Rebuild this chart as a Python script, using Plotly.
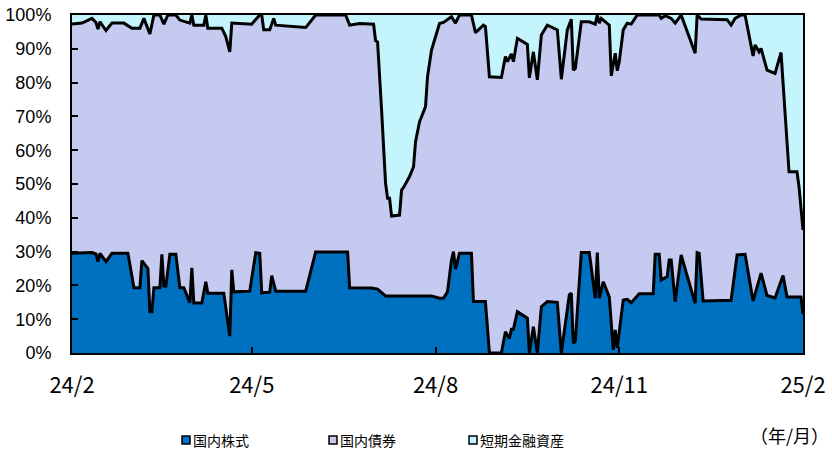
import plotly.graph_objects as go

# 国内株式 (%)
stock_dates = ["2024-02-01","2024-02-11","2024-02-13","2024-02-14","2024-02-15","2024-02-18","2024-02-21","2024-02-29",
"2024-03-03","2024-03-06","2024-03-07","2024-03-10","2024-03-11","2024-03-12","2024-03-13","2024-03-16","2024-03-17",
"2024-03-18","2024-03-19","2024-03-21","2024-03-24","2024-03-26","2024-03-28","2024-03-31","2024-04-01","2024-04-02",
"2024-04-06","2024-04-08","2024-04-09","2024-04-17","2024-04-20","2024-04-21","2024-04-22","2024-04-30","2024-05-03",
"2024-05-05","2024-05-06","2024-05-10","2024-05-11","2024-05-13","2024-05-28","2024-06-02","2024-06-18","2024-06-19",
"2024-06-30","2024-07-03","2024-07-07","2024-07-30","2024-08-03","2024-08-05","2024-08-07","2024-08-09","2024-08-10",
"2024-08-11","2024-08-13","2024-08-19","2024-08-20","2024-08-26","2024-08-28","2024-09-03","2024-09-05","2024-09-07",
"2024-09-08","2024-09-09","2024-09-11","2024-09-16","2024-09-17","2024-09-19","2024-09-21","2024-09-23","2024-09-26",
"2024-10-01","2024-10-03","2024-10-07","2024-10-08","2024-10-09","2024-10-10","2024-10-13","2024-10-17","2024-10-20",
"2024-10-21","2024-10-22","2024-10-24","2024-10-27","2024-10-29","2024-10-30","2024-10-31","2024-11-03","2024-11-05",
"2024-11-07","2024-11-11","2024-11-18","2024-11-19","2024-11-21","2024-11-22","2024-11-25","2024-11-26","2024-11-27",
"2024-11-29","2024-12-02","2024-12-09","2024-12-10","2024-12-11","2024-12-13","2024-12-27","2024-12-30","2025-01-03",
"2025-01-07","2025-01-11","2025-01-14","2025-01-18","2025-01-22","2025-01-24","2025-01-31","2025-02-01"]
stock_pct = [29.5,29.7,29.3,27.0,29.5,27.0,29.5,29.5,
19.3,19.3,27.3,25.0,12.2,12.2,19.3,19.3,29.2,
19.8,19.8,29.2,29.2,19.3,19.3,14.9,25.2,14.8,
14.8,21.1,17.7,17.7,5.0,24.6,18.1,18.3,29.7,
29.5,17.8,18.0,22.9,18.3,18.3,29.9,29.9,19.3,
19.2,18.9,16.9,16.9,16.2,16.2,18.1,27.5,30.0,
24.8,29.5,29.5,15.2,15.2,0.0,0.0,6.3,4.3,
7.0,7.0,12.2,10.3,0.0,7.8,0.0,13.7,15.2,
15.0,0.0,17.2,17.7,2.9,3.5,29.7,29.7,16.2,
29.7,16.2,21.1,16.6,0.9,6.8,1.5,15.7,15.9,
14.9,17.5,17.5,29.2,29.2,21.6,22.6,27.5,27.5,
15.2,29.0,14.7,29.7,29.5,15.4,15.6,29.0,29.2,
15.4,23.6,17.0,16.3,22.9,16.6,16.6,11.5]

# 短期金融資産 (%)
short_dates = ["2024-02-01","2024-02-06","2024-02-11","2024-02-13","2024-02-14","2024-02-15","2024-02-18","2024-02-21",
"2024-02-27","2024-03-02","2024-03-06","2024-03-08","2024-03-11","2024-03-13","2024-03-16","2024-03-18","2024-03-20",
"2024-03-24","2024-03-26","2024-03-28","2024-03-31","2024-04-01","2024-04-02","2024-04-07","2024-04-08","2024-04-09",
"2024-04-16","2024-04-18","2024-04-20","2024-04-21","2024-04-28","2024-05-01","2024-05-02","2024-05-05","2024-05-06",
"2024-05-07","2024-05-10","2024-05-12","2024-05-13","2024-05-28","2024-05-29","2024-06-02","2024-06-17","2024-06-19",
"2024-06-24","2024-07-01","2024-07-02","2024-07-03","2024-07-05","2024-07-06","2024-07-07","2024-07-08","2024-07-09",
"2024-07-10","2024-07-14","2024-07-15","2024-07-16","2024-07-19","2024-07-21","2024-07-22","2024-07-24","2024-07-27",
"2024-07-28","2024-07-30","2024-07-31","2024-08-02","2024-08-03","2024-08-05","2024-08-07","2024-08-09","2024-08-11",
"2024-08-13","2024-08-19","2024-08-21","2024-08-25","2024-08-26","2024-08-28","2024-09-03","2024-09-05","2024-09-06",
"2024-09-08","2024-09-09","2024-09-11","2024-09-16","2024-09-17","2024-09-19","2024-09-21","2024-09-23","2024-09-26",
"2024-10-01","2024-10-03","2024-10-06","2024-10-08","2024-10-09","2024-10-10","2024-10-13","2024-10-17","2024-10-20",
"2024-10-21","2024-10-22","2024-10-23","2024-10-27","2024-10-28","2024-10-30","2024-10-31","2024-11-01","2024-11-03",
"2024-11-05","2024-11-07","2024-11-10","2024-11-21","2024-11-22","2024-11-24","2024-11-27","2024-11-29","2024-12-02",
"2024-12-09","2024-12-10","2024-12-12","2024-12-25","2024-12-27","2024-12-29","2025-01-01","2025-01-03","2025-01-07",
"2025-01-08","2025-01-10","2025-01-11","2025-01-14","2025-01-16","2025-01-18","2025-01-21","2025-01-25","2025-01-29",
"2025-01-30","2025-02-01"]
short_pct = [2.7,2.4,1.0,2.2,4.2,2.0,4.6,2.4,
2.4,3.9,3.9,1.0,5.6,0.0,0.0,2.7,0.0,
0.0,1.5,1.8,2.4,0.0,3.0,3.0,0.0,3.9,
3.9,6.4,10.9,2.4,2.5,2.7,2.0,0.0,0.0,
4.4,4.4,1.0,3.0,3.7,3.0,0.0,0.0,3.0,
2.5,2.7,7.6,8.0,28.1,39.9,49.8,54.2,54.2,
59.5,59.2,51.8,51.0,47.8,44.9,37.5,31.6,27.1,
18.3,10.4,8.4,4.9,2.5,2.2,1.3,0.5,2.4,
0.0,0.0,5.2,3.0,3.4,18.3,18.5,12.3,13.8,
11.5,13.8,6.9,8.7,18.6,10.9,19.2,5.9,3.0,
4.4,19.0,4.4,1.3,16.3,15.8,2.0,2.0,2.7,
0.0,2.4,1.0,3.0,18.0,11.3,16.5,13.8,4.4,
2.4,2.7,0.0,0.0,1.0,0.2,1.0,2.4,0.0,
11.3,0.0,1.2,1.4,3.0,1.0,0.0,0.0,12.1,
8.9,10.9,9.9,16.3,16.7,17.3,11.1,46.4,46.4,
50.8,63.6]

series_names = ["国内株式", "国内債券", "短期金融資産"]
series_colors = ["#0070C0", "#C5CBF0", "#C4F4FC"]

tick_vals = ["2024-02-01", "2024-05-01", "2024-08-01", "2024-11-01", "2025-02-01"]
tick_text = ["24/2", "24/5", "24/8", "24/11", "25/2"]
y_ticks = [0, 10, 20, 30, 40, 50, 60, 70, 80, 90, 100]
y_text = [f"{v}%" for v in y_ticks]

top_pct = [100 - v for v in short_pct]  # 国内株式 + 国内債券

fig = go.Figure()
fig.add_trace(go.Scatter(x=short_dates, y=top_pct, mode="lines", fill="tozeroy",
                         fillcolor=series_colors[1], line=dict(color="black", width=3),
                         showlegend=False, hoverinfo="skip"))
fig.add_trace(go.Scatter(x=stock_dates, y=stock_pct, mode="lines", fill="tozeroy",
                         fillcolor=series_colors[0], line=dict(color="black", width=3),
                         showlegend=False, hoverinfo="skip"))

# legend (square swatch + label), positioned in paper coordinates
legend_x = [0.1505, 0.3516, 0.5431]
sw_w, sw_y0, sw_y1 = 0.0109, -0.2692, -0.2456
for name, col, lx in zip(series_names, series_colors, legend_x):
    fig.add_shape(type="rect", xref="paper", yref="paper", x0=lx, x1=lx + sw_w, y0=sw_y0, y1=sw_y1,
                  fillcolor=col, line=dict(color="black", width=1.5))
    fig.add_annotation(text=name, xref="paper", yref="paper", x=lx + sw_w + 0.002, y=(sw_y0 + sw_y1) / 2,
                       xanchor="left", yanchor="middle", showarrow=False,
                       font=dict(family="Noto Sans CJK JP", size=14, color="black"))

fig.add_annotation(text="（年/月）", xref="paper", yref="paper", x=1.038, y=-0.242,
                   xanchor="right", yanchor="middle", showarrow=False,
                   font=dict(family="Noto Sans CJK JP", size=18, color="black"))

fig.update_layout(
    width=832, height=459,
    margin=dict(l=72, r=29, t=15, b=106, autoexpand=False),
    paper_bgcolor="white", plot_bgcolor=series_colors[2],
    showlegend=False,
    xaxis=dict(type="date", range=["2024-02-01", "2025-02-01"], tickvals=tick_vals, ticktext=tick_text,
               ticks="inside", ticklen=6, tickwidth=1.5, tickcolor="black",
               showline=True, linecolor="black", linewidth=2, mirror=True,
               showgrid=False, zeroline=False, ticklabelstandoff=12,
               tickfont=dict(family="Noto Sans CJK JP", size=22, color="black")),
    yaxis=dict(range=[0, 100], tickvals=y_ticks, ticktext=y_text,
               ticks="inside", ticklen=6, tickwidth=1.5, tickcolor="black",
               showline=True, linecolor="black", linewidth=2, mirror=True,
               showgrid=False, zeroline=False, ticklabelstandoff=15, ticklabeloverflow="allow",
               tickfont=dict(family="Liberation Sans", size=18, color="black")),
)

fig.write_html("out.html", config={"displayModeBar": False},
               post_script="document.body.style.margin='0';")
